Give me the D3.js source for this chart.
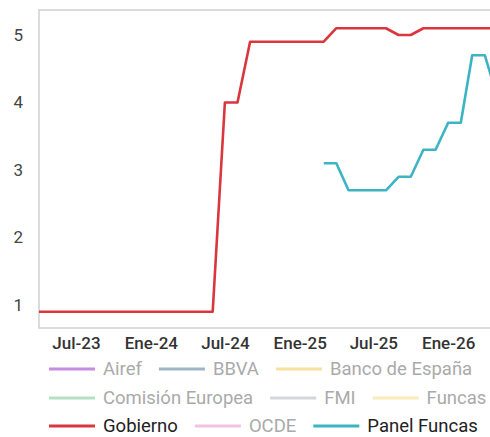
<!DOCTYPE html>
<html><head><meta charset="utf-8">
<script src="https://cdn.jsdelivr.net/npm/d3@7"></script>
<style>html,body{margin:0;padding:0;overflow:hidden;background:#fff;}</style>
</head><body><div id="chart"></div>
<script>
const months = ["2023-04","2023-05","2023-06","2023-07","2023-08","2023-09","2023-10","2023-11","2023-12",
"2024-01","2024-02","2024-03","2024-04","2024-05","2024-06","2024-07","2024-08","2024-09","2024-10","2024-11","2024-12",
"2025-01","2025-02","2025-03","2025-04","2025-05","2025-06","2025-07","2025-08","2025-09","2025-10","2025-11","2025-12",
"2026-01","2026-02","2026-03","2026-04","2026-05"];
const gobierno = [0.9,0.9,0.9,0.9,0.9,0.9,0.9,0.9,0.9,
0.9,0.9,0.9,0.9,0.9,0.9,4.0,4.0,4.9,4.9,4.9,4.9,
4.9,4.9,4.9,5.1,5.1,5.1,5.1,5.1,5.0,5.0,5.1,5.1,
5.1,5.1,5.1,5.1,5.1];
const panelFuncas = [null,null,null,null,null,null,null,null,null,
null,null,null,null,null,null,null,null,null,null,null,null,
null,null,3.1,3.1,2.7,2.7,2.7,2.7,2.9,2.9,3.3,3.3,
3.7,3.7,4.7,4.7,4.1];
const xTickLabels = ["Jul-23","Ene-24","Jul-24","Ene-25","Jul-25","Ene-26"];
const xTickMonths = ["2023-07","2024-01","2024-07","2025-01","2025-07","2026-01"];
const yTicks = [1,2,3,4,5];
const legendNames = ["Airef","BBVA","Banco de España","Comisión Europea","FMI","Funcas","Gobierno","OCDE","Panel Funcas"];
const legendColors = ["#c68ce0","#9db5c6","#f7e0a0","#b4e1c6","#d3d7db","#faecba","#d9363e","#f4c2e1","#3db4c4"];
const legendActive = [false,false,false,false,false,false,true,false,true];

const W = 530, H = 437;
const margin = {left:39, top:10, right:33, bottom:109};
const FONT = "Roboto, 'Liberation Sans', Arial, sans-serif";
const parse = d3.timeParse("%Y-%m");
const dates = months.map(parse);

const svg = d3.select("#chart").append("svg").attr("width", W).attr("height", H)
  .style("font-family", FONT);

const x = d3.scaleTime().domain([dates[0], dates[dates.length-1]]).range([margin.left, W - margin.right]);
const y = d3.scaleLinear().domain([0.66, 5.37]).range([H - margin.bottom, margin.top]);

// border
svg.append("rect").attr("x", margin.left).attr("y", margin.top)
  .attr("width", W - margin.right - margin.left).attr("height", H - margin.bottom - margin.top)
  .attr("fill","none").attr("stroke","#cfcfcf").attr("stroke-width",1.5);

// y axis
const yAxis = svg.append("g").attr("transform",`translate(${margin.left},0)`)
  .call(d3.axisLeft(y).tickValues(yTicks).tickSize(0).tickPadding(16).tickFormat(d3.format("d")));
yAxis.select(".domain").remove();
yAxis.selectAll("text").attr("font-size",17).attr("font-weight",400).attr("fill","#444").attr("font-family", FONT);

// x axis
const xAxis = svg.append("g").attr("transform",`translate(0,${H - margin.bottom})`)
  .call(d3.axisBottom(x).tickValues(xTickMonths.map(parse)).tickSize(0).tickPadding(9)
    .tickFormat((d,i)=>xTickLabels[i]));
xAxis.select(".domain").remove();
xAxis.selectAll("text").attr("font-size",17).attr("font-weight",500).attr("fill","#333")
  .attr("font-family", FONT);

const line = d3.line().defined(d=>d[1]!=null).x(d=>x(d[0])).y(d=>y(d[1]));
svg.append("path").datum(dates.map((d,i)=>[d,gobierno[i]]))
  .attr("d", line).attr("fill","none").attr("stroke",legendColors[6]).attr("stroke-width",2.6)
  .attr("stroke-linejoin","round");
svg.append("path").datum(dates.map((d,i)=>[d,panelFuncas[i]]))
  .attr("d", line).attr("fill","none").attr("stroke",legendColors[8]).attr("stroke-width",2.6)
  .attr("stroke-linejoin","round");

// legend
const lg = svg.append("g");
const rowsY = [369, 398, 426];
const startX = 49, maxX = 490;
let cx = startX, row = 0;
legendNames.forEach((name,i)=>{
  const g = lg.append("g");
  const t = g.append("text").attr("font-size",18.5).attr("dy","0.35em")
    .attr("fill", legendActive[i] ? "#222" : "#aaaaaa").text(name);
  const tw = t.node().getComputedTextLength();
  const itemW = 46 + 8 + tw;
  if (cx + itemW > maxX) { row++; cx = startX; }
  const yy = rowsY[row];
  g.append("line").attr("x1",cx).attr("x2",cx+46).attr("y1",yy).attr("y2",yy)
    .attr("stroke",legendColors[i]).attr("stroke-width",3);
  t.attr("x", cx+54).attr("y", yy);
  cx += itemW + 17;
});
</script></body></html>
